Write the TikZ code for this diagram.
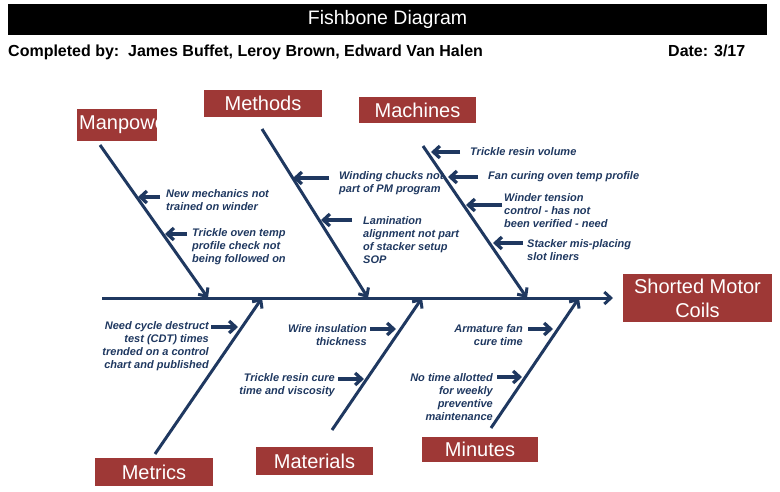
\documentclass[tikz,border=0pt]{standalone}
\usepackage{fontspec}
\setmainfont{Liberation Sans}
\usetikzlibrary{arrows.meta}
\definecolor{bone}{RGB}{31,56,96}
\definecolor{boxred}{RGB}{158,56,54}

\begin{document}
\begin{tikzpicture}[x=1pt, y=-1pt,
    bonearrow/.style={draw=bone, line width=3pt, -{Straight Barb[length=6.5pt,width=12pt]}},
    causearrow/.style={draw=bone, line width=3.3pt, -{Straight Barb[length=6.5pt,width=12pt]}},
    cat/.style={fill=boxred, text=white, inner sep=0pt, font=\fontsize{20}{24}\selectfont},
    cause/.style={text=bone, inner sep=0pt, font=\fontsize{11}{13}\selectfont\bfseries\itshape}]

    \useasboundingbox (0,0) rectangle (780,491);

    % Header
    \node[fill=black, text=white, minimum width=759pt, minimum height=31pt, inner sep=0pt,
          font=\fontsize{19.5}{23}\selectfont] (title) at (387.5,19.5) {Fishbone Diagram};
    \node[anchor=base west, inner sep=0pt, font=\fontsize{16}{19}\selectfont\bfseries]
          (team) at (8,56.5) {Completed by:\ \ James Buffet, Leroy Brown, Edward Van Halen};
    \node[anchor=base west, inner sep=0pt, font=\fontsize{16}{19}\selectfont\bfseries]
          (date) at (668,56.5) {Date: 3/17};

    % Categories
    \node[cat, minimum width=80pt, minimum height=32pt,
          path picture={\node[anchor=west, inner sep=0pt, text=white, font=\fontsize{20}{24}\selectfont]
                        at ([xshift=2pt]path picture bounding box.west) {Manpower};}]
          (manpower) at (117,125) {};
    \node[cat, minimum width=118pt, minimum height=27pt] (methods) at (263,103.5) {Methods};
    \node[cat, minimum width=117pt, minimum height=26pt] (machines) at (417.5,110) {Machines};
    \node[cat, minimum width=118pt, minimum height=28pt] (metrics) at (154,472) {Metrics};
    \node[cat, minimum width=117pt, minimum height=28pt] (materials) at (314.5,461) {Materials};
    \node[cat, minimum width=116pt, minimum height=25pt] (minutes) at (480,449.5) {Minutes};
    \node[cat, minimum width=149pt, minimum height=48pt, align=center] (effect) at (697.5,298)
          {Shorted Motor\\Coils};

    % Spine and bones
    \coordinate (head) at (102,298);
    \coordinate (tip) at (613,298);
    \draw[bonearrow] (head) -- (tip);
    \coordinate (mpA) at (100,145);  \coordinate (mpB) at (208,298);
    \coordinate (meA) at (262,129);  \coordinate (meB) at (368,298);
    \coordinate (maA) at (423,146);  \coordinate (maB) at (527,298);
    \coordinate (mtA) at (155,454);  \coordinate (mtB) at (262,298);
    \coordinate (mlA) at (332,430);  \coordinate (mlB) at (422,298);
    \coordinate (miA) at (491,428);  \coordinate (miB) at (579,298);
    \foreach \b in {mp,me,ma,mt,ml,mi} {
      \draw[bonearrow] (\b A) -- (\b B);
    }

    % Causes above the spine
    \node[cause, anchor=west, align=left] (mp1) at (166,200.5) {New mechanics not\\trained on winder};
    \node[cause, anchor=west, align=left] (mp2) at (192,246.5) {Trickle oven temp\\profile check not\\being followed on};
    \node[cause, anchor=west, align=left] (me1) at (339,183.5) {Winding chucks not\\part of PM program};
    \node[cause, anchor=west, align=left] (me2) at (363,240.5) {Lamination\\alignment not part\\of stacker setup\\SOP};
    \node[cause, anchor=west] (ma1) at (470,152) {Trickle resin volume};
    \node[cause, anchor=west] (ma2) at (488,177) {Fan curing oven temp profile};
    \node[cause, anchor=west, align=left] (ma3) at (504,211) {Winder tension\\control - has not\\been verified - need};
    \node[cause, anchor=west, align=left] (ma4) at (527,250) {Stacker mis-placing\\slot liners};

    % Causes below the spine
    \node[cause, anchor=east, align=right] (mt1) at (209,346.5) {Need cycle destruct\\test (CDT) times\\trended on a control\\chart and published};
    \node[cause, anchor=east, align=right] (ml1) at (367,335.5) {Wire insulation\\thickness};
    \node[cause, anchor=east, align=right] (ml2) at (335,385.5) {Trickle resin cure\\time and viscosity};
    \node[cause, anchor=east, align=right] (mi1) at (523,335.5) {Armature fan\\cure time};
    \node[cause, anchor=east, align=right] (mi2) at (493,397.5) {No time allotted\\for weekly\\preventive\\maintenance};

    % Cause arrows
    \foreach \c/\x/\y/\t in {mp1/160/197/138, mp2/187/234/165, me1/329/178/293, me2/352/220/321,
                             ma1/460/152/431, ma2/478/177/448, ma3/502/205/466, ma4/523/243/493,
                             mt1/211/327/238, ml1/370/329/396, ml2/338/379/364,
                             mi1/528/329/553, mi2/497/377/522} {
      \coordinate (\c s) at (\x,\y);
      \coordinate (\c e) at (\t,\y);
      \draw[causearrow] (\c s) -- (\c e);
    }
  \end{tikzpicture}
\end{document}
